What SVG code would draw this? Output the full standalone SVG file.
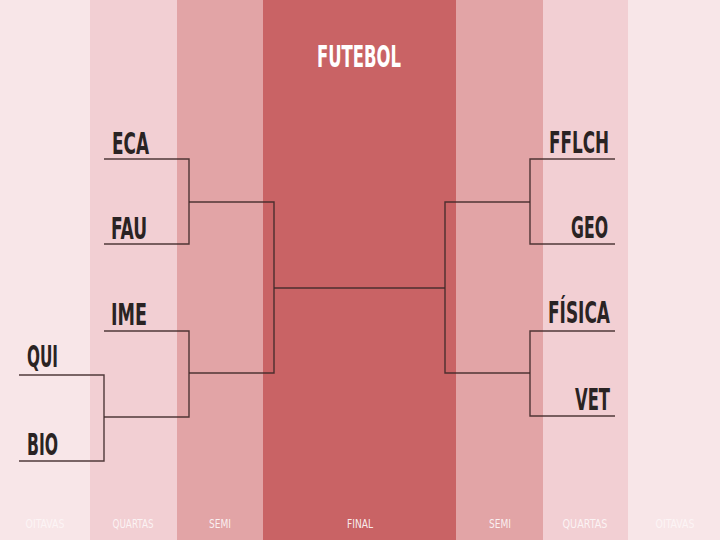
<svg xmlns="http://www.w3.org/2000/svg" width="720" height="540" viewBox="0 0 720 540">
<style>
.t{font-family:"DejaVu Sans Condensed","Liberation Sans Narrow","Liberation Sans",sans-serif;font-weight:bold;font-size:31px;fill:#2a2323}
.r{text-anchor:end}
.ttl{font-family:"DejaVu Sans Condensed","Liberation Sans",sans-serif;font-weight:bold;font-size:30px;fill:#ffffff}
.lb{font-family:"DejaVu Sans Condensed","Liberation Sans",sans-serif;font-size:13px;fill:#ffffff;text-anchor:middle}
.ln{fill:none;stroke:#3e2828;stroke-width:1.4;stroke-opacity:0.9}
</style>
<g id="background">
<rect x="0" y="0" width="90" height="540" fill="#f8e6e8"/>
<rect x="90" y="0" width="87" height="540" fill="#f2cfd3"/>
<rect x="177" y="0" width="86" height="540" fill="#e2a4a6"/>
<rect x="263" y="0" width="193" height="540" fill="#c96365"/>
<rect x="456" y="0" width="87" height="540" fill="#e2a4a6"/>
<rect x="543" y="0" width="85" height="540" fill="#f2cfd3"/>
<rect x="628" y="0" width="92" height="540" fill="#f8e6e8"/>
</g>
<g id="title"><text class="ttl" x="359" y="67" text-anchor="middle" textLength="84" lengthAdjust="spacingAndGlyphs">FUTEBOL</text></g>
<g id="connectors">
<path class="ln" d="M104 159H189V244H104"/>
<path class="ln" d="M104 331H189V417H104"/>
<path class="ln" d="M19 375H104V461H19"/>
<path class="ln" d="M189 202H274V373H189"/>
<path class="ln" d="M274 288H445"/>
<path class="ln" d="M615 159H530V244H615"/>
<path class="ln" d="M615 331H530V416H615"/>
<path class="ln" d="M530 202H445V373H530"/>
</g>
<g id="node-eca"><text class="t" x="112" y="154" textLength="37" lengthAdjust="spacingAndGlyphs">ECA</text></g>
<g id="node-fau"><text class="t" x="111" y="239" textLength="36" lengthAdjust="spacingAndGlyphs">FAU</text></g>
<g id="node-ime"><text class="t" x="111" y="325" textLength="36" lengthAdjust="spacingAndGlyphs">IME</text></g>
<g id="node-qui"><text class="t" x="27" y="367" textLength="31" lengthAdjust="spacingAndGlyphs">QUI</text></g>
<g id="node-bio"><text class="t" x="27" y="455" textLength="31" lengthAdjust="spacingAndGlyphs">BIO</text></g>
<g id="node-fflch"><text class="t r" x="609" y="153" textLength="60" lengthAdjust="spacingAndGlyphs">FFLCH</text></g>
<g id="node-geo"><text class="t r" x="608" y="238" textLength="37" lengthAdjust="spacingAndGlyphs">GEO</text></g>
<g id="node-fisica"><text class="t r" x="610" y="323" textLength="62" lengthAdjust="spacingAndGlyphs">FÍSICA</text></g>
<g id="node-vet"><text class="t r" x="610" y="410" textLength="35" lengthAdjust="spacingAndGlyphs">VET</text></g>
<g id="round-labels">
<text class="lb" x="45" y="528" fill-opacity="0.6" textLength="39" lengthAdjust="spacingAndGlyphs">OITAVAS</text>
<text class="lb" x="133" y="528" fill-opacity="0.75" textLength="41" lengthAdjust="spacingAndGlyphs">QUARTAS</text>
<text class="lb" x="220" y="528" fill-opacity="0.85" textLength="22" lengthAdjust="spacingAndGlyphs">SEMI</text>
<text class="lb" x="360" y="528" fill-opacity="0.9" textLength="26" lengthAdjust="spacingAndGlyphs">FINAL</text>
<text class="lb" x="500" y="528" fill-opacity="0.85" textLength="22" lengthAdjust="spacingAndGlyphs">SEMI</text>
<text class="lb" x="585" y="528" fill-opacity="0.75" textLength="45" lengthAdjust="spacingAndGlyphs">QUARTAS</text>
<text class="lb" x="675" y="528" fill-opacity="0.6" textLength="39" lengthAdjust="spacingAndGlyphs">OITAVAS</text>
</g>
</svg>
